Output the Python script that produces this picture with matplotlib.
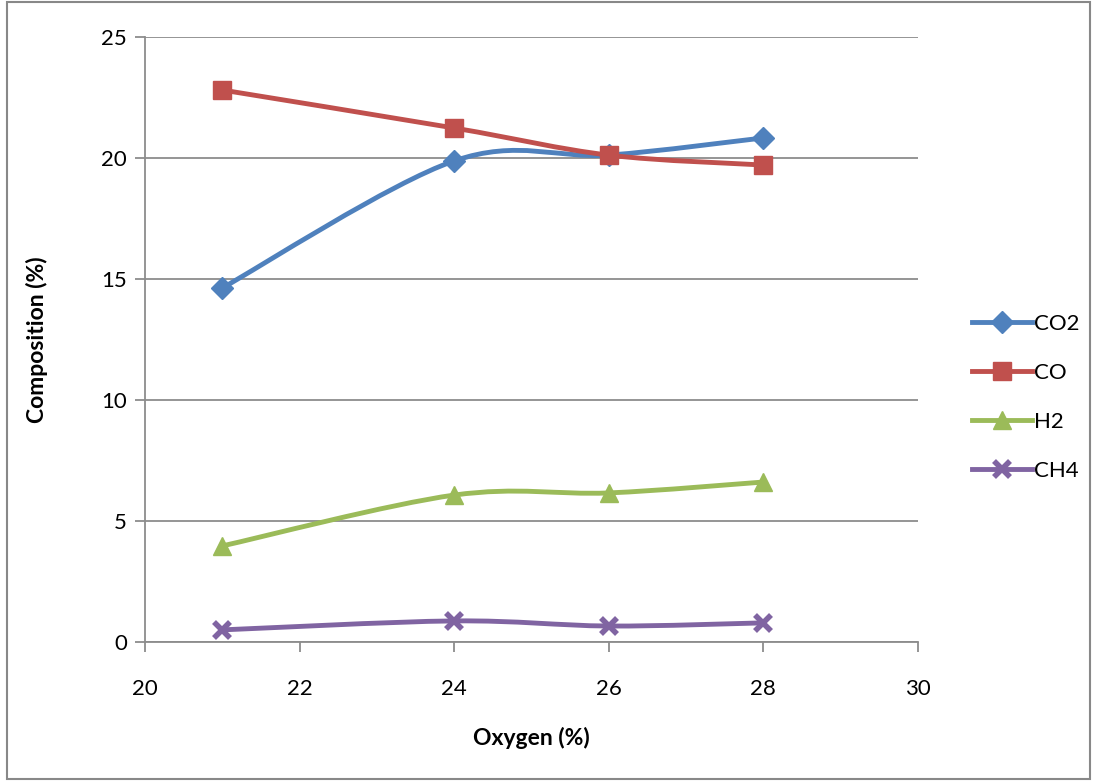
import matplotlib
matplotlib.use("Agg")
import matplotlib.pyplot as plt
from matplotlib.path import Path
from matplotlib.patches import PathPatch, Rectangle
from matplotlib.lines import Line2D

plt.rcParams['font.family'] = ['Lato', 'DejaVu Sans']

oxygen = [21, 24, 26, 28]
co2 = [14.63, 19.88, 20.12, 20.83]
co = [22.81, 21.24, 20.12, 19.71]
h2 = [3.97, 6.07, 6.16, 6.61]
ch4 = [0.50, 0.87, 0.66, 0.79]

series_names = ['CO2', 'CO', 'H2', 'CH4']
series_values = [co2, co, h2, ch4]
colors = ['#4F81BD', '#C0504D', '#9BBB59', '#8064A2']
markers = ['D', 's', '^', 'x']
msizes = [11, 13, 13, 11]
mews = [1, 1, 1, 4]


def smooth_path(xs, ys):
    pts = list(zip(xs, ys))
    n = len(pts)
    verts = [pts[0]]
    codes = [Path.MOVETO]
    for i in range(n - 1):
        p0 = pts[i - 1] if i > 0 else pts[i]
        p1 = pts[i]
        p2 = pts[i + 1]
        p3 = pts[i + 2] if i + 2 < n else pts[i + 1]
        c1 = (p1[0] + (p2[0] - p0[0]) / 6, p1[1] + (p2[1] - p0[1]) / 6)
        c2 = (p2[0] - (p3[0] - p1[0]) / 6, p2[1] - (p3[1] - p1[1]) / 6)
        verts += [c1, c2, p2]
        codes += [Path.CURVE4] * 3
    return Path(verts, codes)


fig = plt.figure(figsize=(10.94, 7.81), dpi=100)
fig.patches.append(Rectangle((0.0065, 0.003), 0.99, 0.994, transform=fig.transFigure,
                             fill=False, edgecolor='#888888', linewidth=1.5))
ax = fig.add_axes([0.1325, 0.178, 0.7065, 0.7746])

handles = []
for k, (name, vals, c, m, ms, mw) in enumerate(zip(series_names, series_values, colors,
                                                   markers, msizes, mews)):
    patch = PathPatch(smooth_path(oxygen, vals), facecolor='none', edgecolor=c,
                      linewidth=3.5, capstyle='round', joinstyle='round', zorder=3 + 2 * k)
    ax.add_patch(patch)
    ax.plot(oxygen, vals, linestyle='none', marker=m, markersize=ms, color=c,
            markeredgecolor=c, markeredgewidth=mw, zorder=4 + 2 * k)
    handles.append(Line2D([], [], color=c, linewidth=3.5, marker=m, markersize=ms,
                          markeredgecolor=c, markeredgewidth=mw, label=name))

ax.set_xlim(20, 30)
ax.set_ylim(0, 25)
ax.set_xticks(range(20, 31, 2))
ax.set_yticks(range(0, 26, 5))
ax.grid(axis='y', color='#8c8c8c', linewidth=1.3)
ax.set_axisbelow(True)
for s in ['top', 'right']:
    ax.spines[s].set_visible(False)
for s in ['left', 'bottom']:
    ax.spines[s].set_color('#8c8c8c')
    ax.spines[s].set_linewidth(1.3)
ax.tick_params(axis='both', colors='#8c8c8c', labelcolor='black', labelsize=16,
               length=7, width=1.3, direction='out')
ax.tick_params(axis='x', pad=20)
ax.tick_params(axis='y', pad=6)
ax.set_xlabel('Oxygen (%)', fontsize=16.5, fontweight='bold', labelpad=20)
ax.set_ylabel('Composition (%)', fontsize=16.5, fontweight='bold', labelpad=38)

fig.legend(handles=handles, loc='center left', bbox_to_anchor=(0.870, 0.491),
           frameon=False, fontsize=16, handlelength=2.7, labelspacing=1.3,
           handletextpad=0.1)

fig.savefig('out.png', dpi=100)
